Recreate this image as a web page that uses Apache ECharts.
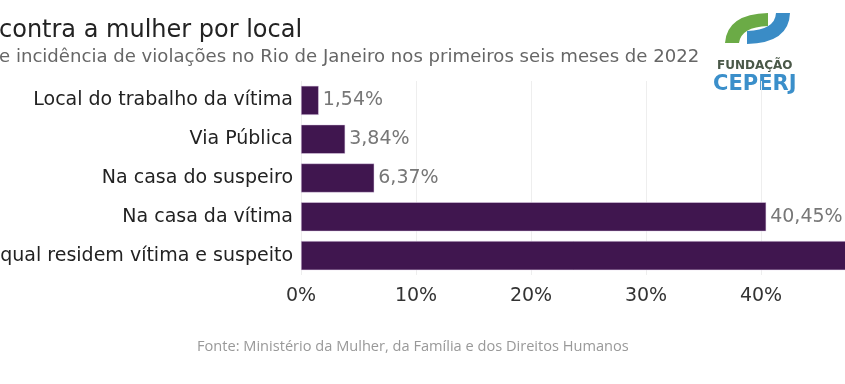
<!DOCTYPE html>
<html><head><meta charset="utf-8">
<script src="https://cdn.jsdelivr.net/npm/echarts@6/dist/echarts.min.js"></script>
<style>html,body{margin:0;padding:0;background:#fff}#c{width:845px;height:384px}</style>
</head><body><div id="c"></div>
<script>
const categories = ["Local do trabalho da vítima","Via Pública","Na casa do suspeiro","Na casa da vítima","qual residem vítima e suspeito"];
const values = [1.54, 3.84, 6.37, 40.45, 47.8];
const tickValues = [0,10,20,30,40,50];
const titleText = "contra a mulher por local";
const subtitleText = "e incidência de violações no Rio de Janeiro nos primeiros seis meses de 2022";
const sourceText = "Fonte: Ministério da Mulher, da Família e dos Direitos Humanos";

const logoSvg = '<svg xmlns="http://www.w3.org/2000/svg" width="70" height="34" viewBox="0 0 70 34">' +
  '<path d="M2,32 Q4,3 45,2 L45,15 Q18,16 16,32 Z" fill="#6bab46"/>' +
  '<path d="M67,2 Q66,32 24,33 L24,20 Q52,19 53,2 Z" fill="#3a8cc6"/></svg>';

const chart = echarts.init(document.getElementById('c'), null, {renderer:'canvas'});
const fmt = v => v.toFixed(2).replace('.', ',') + '%';
chart.setOption({
  animation:false,
  backgroundColor:'#fff',
  title:[
    {text:titleText, left:-1, top:19, padding:0, textStyle:{fontFamily:'DejaVu Sans', fontSize:24, fontWeight:'normal', color:'#222'}},
    {text:subtitleText, left:-1, top:48, padding:0, textStyle:{fontFamily:'DejaVu Sans', fontSize:18.1, fontWeight:'normal', color:'#666'}},
    {text:sourceText, left:197, top:339, padding:0, textStyle:{fontFamily:'Open Sans', fontSize:14.6, fontWeight:'normal', color:'#999'}}
  ],
  grid:{left:301, top:81, width:575, height:194, outerBoundsMode:'none', containLabel:false},
  xAxis:{type:'value', min:0, max:50, interval:10,
    axisLine:{show:false}, axisTick:{show:false},
    splitLine:{show:true, lineStyle:{color:'#eeeeee', width:1}},
    axisLabel:{formatter:v=>v+'%', fontFamily:'DejaVu Sans', fontSize:19, color:'#333', margin:12}
  },
  yAxis:{type:'category', data:categories, inverse:true,
    axisLine:{show:false}, axisTick:{show:false},
    axisLabel:{fontFamily:'DejaVu Sans', fontSize:19, color:'#222', margin:8}
  },
  series:[{type:'bar', data:values, barCategoryGap:'25%',
    itemStyle:{color:'#40164f', borderColor:'#e3d3ea', borderWidth:0.5},
    label:{show:true, position:'right', distance:4, formatter:p=>fmt(p.value), fontFamily:'DejaVu Sans', fontSize:19, color:'#777'}
  }],
  graphic:[
    {type:'image', left:723, top:11, style:{image:'data:image/svg+xml;charset=utf-8,' + encodeURIComponent(logoSvg), width:70, height:34}},
    {type:'text', left:717, top:60, style:{text:'FUNDAÇÃO', font:'bold 12px "DejaVu Sans"', fill:'#4a5848'}},
    {type:'text', left:713, top:74, style:{text:'CEPERJ', font:'bold 21px "DejaVu Sans"', fill:'#3b8fca'}}
  ]
});
</script></body></html>
